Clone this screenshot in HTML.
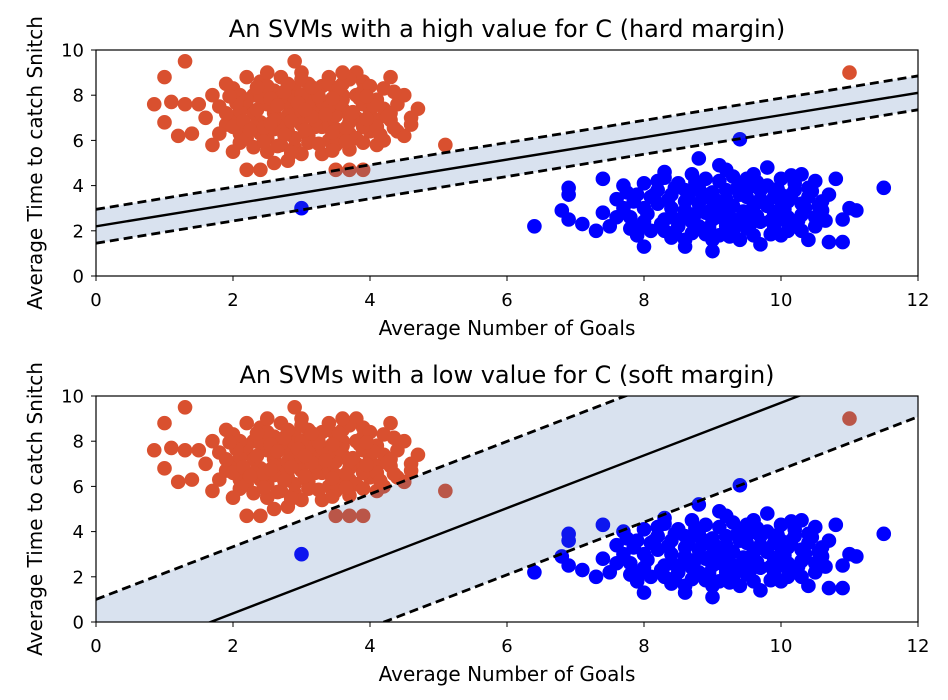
<!DOCTYPE html>
<html><head><meta charset="utf-8"><style>
body{margin:0;background:#fff;width:948px;height:700px;overflow:hidden}
svg{display:block;font-family:"DejaVu Sans","Liberation Sans",sans-serif}
</style></head><body>
<svg id="chart" width="948" height="700"></svg>
<script>
const orangePts=[[2.0,7.0],[2.2,7.5],[2.4,6.8],[2.6,7.2],[2.8,7.6],[3.0,7.0],[3.2,7.3],[3.4,6.9],[3.6,7.4],[3.8,7.0],[4.0,7.2],[2.3,8.0],[2.6,8.2],[2.9,8.3],[3.2,8.1],[3.5,8.2],[3.8,8.0],[4.1,7.8],[2.1,6.3],[2.5,6.1],[2.8,6.4],[3.1,6.2],[3.4,6.0],[3.7,6.3],[4.0,6.4],[4.3,6.9],[4.4,7.6],[4.2,8.3],[1.8,7.5],[1.7,8.0],[1.9,6.7],[2.1,5.9],[2.5,5.5],[2.9,5.7],[3.3,5.4],[3.7,5.6],[4.1,5.8],[2.7,8.8],[3.0,9.0],[3.4,8.8],[3.9,8.6],[2.4,8.6],[2.0,8.3],[4.4,6.4],[4.6,7.0],[4.5,6.2],[1.5,7.6],[1.3,7.6],[1.1,7.7],[0.85,7.6],[1.0,6.8],[1.2,6.2],[1.4,6.3],[1.0,8.8],[1.3,9.5],[2.9,9.5],[2.6,5.0],[2.2,4.7],[2.4,4.7],[3.5,4.7],[3.7,4.7],[3.9,4.7],[2.8,5.1],[5.1,5.8],[11.0,9.0],[3.0,6.7],[2.7,6.9],[3.3,7.7],[2.9,7.9],[3.6,7.8],[3.1,5.9],[1.7,5.8],[4.7,7.4],[4.3,8.8],[3.8,9.0],[2.2,8.8],[2.0,5.5],[1.6,7.0],[2.3,7.2],[3.5,6.5],[3.9,7.6],[4.2,6.0],[1.9,8.5],[3.6,8.5],
[2.1,7.3],[2.3,6.6],[2.5,7.6],[2.7,6.6],[2.9,7.3],[3.1,7.7],[3.3,6.6],[3.5,7.1],[3.7,6.8],[3.9,6.6],[4.1,6.9],[2.4,7.9],[2.7,7.9],[3.0,8.0],[3.3,8.4],[3.6,8.0],[3.9,8.2],[4.2,7.4],[2.2,6.1],[2.6,6.5],[2.9,6.1],[3.2,6.6],[3.5,6.2],[3.8,6.1],[4.1,6.6],[2.0,6.6],[1.9,7.2],[2.2,7.8],[2.5,8.4],[2.8,8.5],[3.1,8.5],[3.4,8.5],[3.7,8.7],[4.0,8.4],[2.3,5.7],[2.7,5.8],[3.0,5.4],[3.5,5.8],[3.9,5.9],[2.6,6.9],[3.4,7.5],[2.8,7.1],[3.2,6.9],[3.7,7.1],[2.4,6.3],[4.3,7.2],[2.1,8.0],[3.0,8.7],[3.6,9.0],[2.5,9.0],[4.5,8.0],[1.8,6.3],[4.6,6.7],
[2.05,7.65],[2.15,6.85],[2.35,7.35],[2.45,6.55],[2.55,7.85],[2.65,7.55],[2.75,6.25],[2.85,6.85],[2.95,7.65],[3.05,6.45],[3.15,7.05],[3.25,7.95],[3.35,7.15],[3.45,6.35],[3.55,7.65],[3.65,6.55],[3.75,7.25],[3.85,7.85],[3.95,6.95],[4.05,7.55],[4.15,6.25],[2.25,6.45],[2.65,5.75],[3.25,5.85],[3.65,5.95],[2.35,8.35],[2.75,8.15],[3.15,8.35],[3.55,8.35],[3.95,7.95],[4.25,7.05],[4.35,6.55],[2.55,6.75],[3.05,7.35],[3.45,7.85],[1.95,7.95],[2.85,5.45],[3.45,5.55],[4.35,8.15],[2.45,5.95]];
const bluePts=[[8.0,3.0],[8.3,2.5],[8.6,3.3],[8.9,2.8],[9.2,3.4],[9.5,2.7],[9.8,3.1],[10.1,2.6],[8.2,3.8],[8.5,4.1],[8.8,3.9],[9.1,4.2],[9.4,4.0],[9.7,3.8],[10.0,3.6],[10.3,3.2],[8.1,2.0],[8.4,1.7],[8.7,1.9],[9.0,1.6],[9.3,2.0],[9.6,1.8],[9.9,2.1],[10.2,2.2],[7.8,2.6],[7.6,3.4],[7.5,2.2],[7.7,4.0],[8.3,4.6],[8.8,5.2],[9.2,4.7],[9.6,4.5],[10.0,4.3],[10.4,3.9],[10.6,2.9],[10.5,2.2],[10.7,3.6],[10.8,4.3],[10.9,2.5],[11.0,3.0],[11.1,2.9],[10.9,1.5],[10.7,1.5],[10.4,1.6],[9.7,1.4],[9.0,1.1],[8.6,1.3],[8.0,1.3],[7.4,2.8],[7.4,4.3],[6.9,3.9],[6.9,3.6],[6.8,2.9],[6.9,2.5],[7.1,2.3],[7.3,2.0],[6.4,2.2],[11.5,3.9],[9.4,6.05],[3.0,3.0],[8.7,4.5],[9.5,3.5],[9.0,3.0],[8.5,2.2],[9.3,2.5],[10.0,1.8],[10.3,4.5],[7.9,1.8],[9.8,4.8],[9.1,4.9],[8.4,3.0],[9.2,2.2],[9.9,2.8],[8.1,3.5],[10.2,3.8],[8.9,3.5],
[7.7,3.0],[7.9,3.6],[8.0,2.4],[8.2,3.2],[8.4,3.6],[8.4,2.6],[8.6,2.9],[8.6,3.8],[8.7,2.4],[8.8,3.2],[8.9,4.3],[9.0,2.5],[9.0,3.7],[9.1,2.9],[9.2,3.8],[9.3,3.1],[9.4,2.4],[9.4,3.6],[9.5,4.3],[9.6,3.1],[9.7,2.4],[9.7,3.4],[9.8,4.0],[9.9,3.5],[10.0,2.5],[10.0,3.0],[10.1,3.3],[10.2,4.1],[10.3,2.7],[10.4,3.5],[10.5,2.6],[10.6,3.3],[8.3,2.0],[8.8,2.2],[9.5,2.1],[9.1,1.8],[8.2,4.2],[9.3,4.4],[7.8,2.1],[10.1,2.0],[8.6,1.6],[9.4,1.6],[7.6,2.6],[10.5,4.2],[8.0,4.1],
[7.85,3.3],[8.05,2.75],[8.15,3.6],[8.25,2.3],[8.35,3.35],[8.45,3.9],[8.55,2.55],[8.65,3.55],[8.75,2.75],[8.85,3.65],[8.95,2.15],[9.05,3.35],[9.15,2.55],[9.25,3.05],[9.35,3.85],[9.45,2.85],[9.55,3.95],[9.65,2.65],[9.75,3.25],[9.85,2.45],[9.95,3.85],[10.05,2.95],[10.15,3.6],[10.25,2.45],[10.35,3.0],[10.45,3.75],[10.55,3.1],[8.3,4.35],[8.75,4.15],[9.65,4.15],[9.85,1.85],[9.25,1.75],[8.45,1.95],[10.3,2.0],[7.95,2.2],[8.9,1.85],[9.55,2.3],[10.65,2.45],[7.75,3.7],[10.15,4.45]];
const xTicks=[0,2,4,6,8,10,12];
const yTicks=[0,2,4,6,8,10];
const hardLine=[0.492,2.2];   // slope, intercept
const hardMargin=0.75;
const softLine=[1.165,-1.95];
const softMargin=2.95;
const titles=["An SVMs with a high value for C (hard margin)","An SVMs with a low value for C (soft margin)"];

const NS="http://www.w3.org/2000/svg";
const svg=document.getElementById('chart');
function mk(t,a,p){const e=document.createElementNS(NS,t);for(const k in a)e.setAttribute(k,a[k]);(p||svg).appendChild(e);return e;}
const X0=96,X1=918;
function panel(top,line,margin,title,idx){
  const Y0=top,Y1=top+226;
  const sx=v=>X0+v/12*(X1-X0), sy=v=>Y1-v/10*(Y1-Y0);
  const g=mk('g',{});
  
  
  const cid='clip'+idx;
  const cp=mk('clipPath',{id:cid},g);mk('rect',{x:X0,y:Y0,width:X1-X0,height:Y1-Y0},cp);
  const pg=mk('g',{'clip-path':'url(#'+cid+')'},g);
  orangePts.forEach(p=>{const c=mk('circle',{cx:sx(p[0]),cy:sy(p[1]),r:7.3,fill:'#d9502f'},pg);
    
    });
  bluePts.forEach(p=>{const c=mk('circle',{cx:sx(p[0]),cy:sy(p[1]),r:7.3,fill:'#0000ff'},pg);
    
    });
  const f=(x,o)=>line[0]*x+line[1]+o;
  const poly=mk('polygon',{points:[[0,margin],[12,margin],[12,-margin],[0,-margin]].map(q=>sx(q[0])+','+sy(f(q[0],q[1]))).join(' '),fill:'rgba(64,112,176,0.2)'},pg);
  
  
  [[0,'none','decision-boundary',2.4],[margin,'9,5','upper-margin',2.8],[-margin,'9,5','lower-margin',2.8]].forEach(d=>{
    const l=mk('line',{x1:sx(0),y1:sy(f(0,d[0])),x2:sx(12),y2:sy(f(12,d[0])),stroke:'#000','stroke-width':d[3],'stroke-dasharray':d[1]},pg);
    
    
  });
  mk('rect',{x:X0,y:Y0,width:X1-X0,height:Y1-Y0,fill:'none',stroke:'#000','stroke-width':1.2},g);
  xTicks.forEach(v=>{mk('line',{x1:sx(v),x2:sx(v),y1:Y1,y2:Y1+5,stroke:'#000'},g);
    const t=mk('text',{x:sx(v),y:Y1+30,'text-anchor':'middle','font-size':18},g);t.textContent=v;
    
    });
  yTicks.forEach(v=>{mk('line',{x1:X0-5,x2:X0,y1:sy(v),y2:sy(v),stroke:'#000'},g);
    const t=mk('text',{x:X0-12,y:sy(v)+6.5,'text-anchor':'end','font-size':18},g);t.textContent=v;
    
    });
  const tt=mk('text',{x:(X0+X1)/2,y:Y0-13,'text-anchor':'middle','font-size':24},g);tt.textContent=title;
  
  
  const xl=mk('text',{x:(X0+X1)/2,y:Y1+59,'text-anchor':'middle','font-size':20},g);xl.textContent='Average Number of Goals';
  
  
  const yl=mk('text',{x:0,y:0,'text-anchor':'middle','font-size':20,transform:'translate(42,'+((Y0+Y1)/2)+') rotate(-90)'},g);yl.textContent='Average Time to catch Snitch';
  
  
}
panel(50,hardLine,hardMargin,titles[0],0);
panel(396,softLine,softMargin,titles[1],1);
</script>
</body></html>
